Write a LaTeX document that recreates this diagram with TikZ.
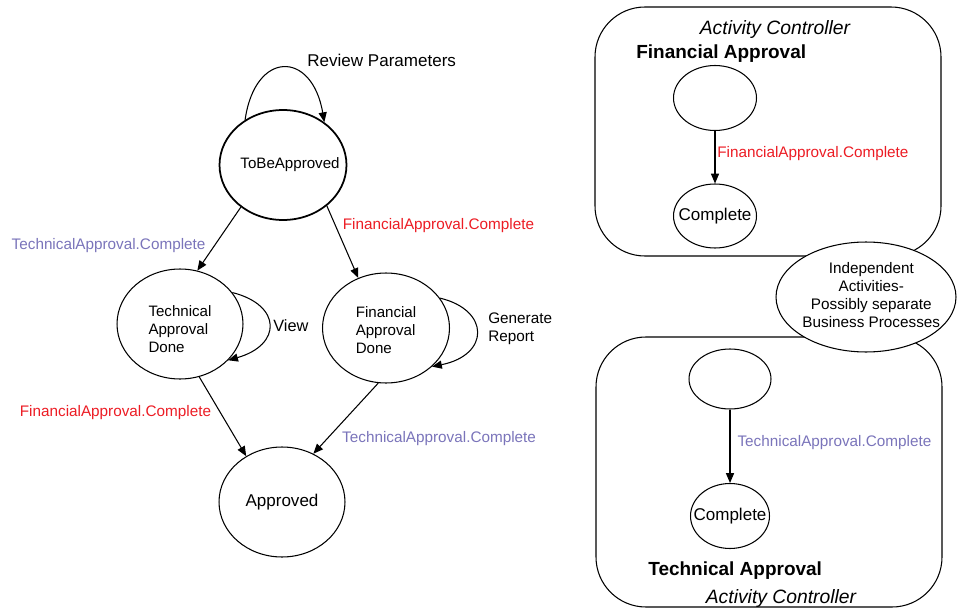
\documentclass[tikz,border=0pt]{standalone}
\usepackage{fontspec}
\setmainfont{Liberation Sans}
\usepackage{tikz}
\usetikzlibrary{
	arrows.meta,
	shapes.geometric,
	positioning
}
\definecolor{FinRed}{RGB}{236,28,36}
\definecolor{TechBlue}{RGB}{122,116,186}
\newcommand{\inside}[2][c]{\makebox[0pt]{\begin{tabular}{@{}#1@{}}#2\end{tabular}}}

\begin{document}
\begin{tikzpicture}[x=0.02cm, y=-0.02cm,
	>={Triangle[length=5.6pt,width=4.6pt]},
	state/.style={ellipse, draw, line width=0.6pt, inner sep=0pt, font=\fontsize{8.6}{10.3}\selectfont},
	bigtext/.style={font=\fontsize{9.7}{11.6}\selectfont},
	trans/.style={->, line width=0.6pt},
	lbl/.style={font=\fontsize{8.7}{10.4}\selectfont, inner sep=0pt},
	ctrlbox/.style={draw, line width=0.6pt, rounded corners=1cm},
	ctrlname/.style={font=\fontsize{10.8}{13}\selectfont\bfseries, inner sep=0pt},
	ctrlkind/.style={font=\fontsize{11}{13}\selectfont\itshape, inner sep=0pt}]
		\useasboundingbox (0,0) rectangle (957,608);
		\node[state, line width=1pt, minimum width=2.54cm, minimum height=2.2cm] (T) at (283,165) {\hspace{8pt}\inside{ToBeApproved}};
		\node[state, minimum width=2.52cm, minimum height=2.2cm] (TD) at (180,324) {\raisebox{-4pt}[\height][\depth]{\inside[l]{Technical\\Approval\\Done}}\hspace{10pt}};
		\node[state, minimum width=2.54cm, minimum height=2.2cm] (FD) at (386,328) {\raisebox{-2.3pt}[\height][\depth]{\inside[l]{Financial\\Approval\\Done}}\hspace{6pt}};
		\node[state, bigtext, minimum width=2.52cm, minimum height=2.2cm] (A) at (282,502) {\inside{Approved}};
		\draw[trans] (T.130) .. controls (255,50) and (312,50) .. (T.46);
		\node[bigtext, anchor=west, inner sep=0pt] (RP) at (307,60) {Review Parameters};
		\draw[trans] (TD.31) .. controls (282,305) and (282,345) .. (TD.-37);
		\node[lbl, font=\fontsize{9.3}{11}\selectfont, anchor=west] (V) at (273,326) {View};
		\draw[trans] (FD.29) .. controls (490,310) and (490,355) .. (FD.-40);
		\node[lbl, align=left, anchor=west] (GR) at (488,329) {Generate\\Report};
		\draw[trans] (T.-135) -- (TD.72) node[lbl, pos=.6, left=5pt, text=TechBlue] {TechnicalApproval.Complete};
		\draw[trans] (T.-43.5) -- (FD.119) node[lbl, pos=.27, right=4pt, text=FinRed] {FinancialApproval.Complete};
		\draw[trans] (TD.-70) -- (A.128) node[lbl, pos=.45, left=5pt, text=FinRed] {FinancialApproval.Complete};
		\draw[trans] (FD.-98) -- (A.57) node[lbl, pos=.78, right=8pt, text=TechBlue] {TechnicalApproval.Complete};
		\draw[ctrlbox] (595,7) rectangle (941,256);
		\node[ctrlkind, anchor=base] (FK) at (775,35) {Activity Controller};
		\node[ctrlname, anchor=base west] (FN) at (636,59) {Financial Approval};
		\node[state, minimum width=1.66cm, minimum height=1.3cm] (FS) at (715,98) {};
		\node[state, bigtext, minimum width=1.66cm, minimum height=1.28cm] (FC) at (715,216) {\inside{Complete}};
		\draw[trans] (FS) -- (FC) node[lbl, pos=.42, right=1pt, text=FinRed] {FinancialApproval.Complete};
		\draw[ctrlbox] (596,337) rectangle (942,607);
		\node[state, minimum width=1.64cm, minimum height=1.2cm] (TS) at (730,379) {};
		\node[state, bigtext, minimum width=1.58cm, minimum height=1.3cm] (TC) at (730,516) {\inside{Complete}};
		\draw[trans] (TS) -- (TC) node[lbl, pos=.45, right=4pt, text=TechBlue] {TechnicalApproval.Complete};
		\node[ctrlname, anchor=base west] (TN) at (648,575) {Technical Approval};
		\node[ctrlkind, anchor=base] (TK) at (781,603) {Activity Controller};
		\node[state, fill=white, font=\fontsize{8.7}{10.2}\selectfont, minimum width=3.6cm, minimum height=2.2cm] (IA) at (866,297) {\hspace{6pt}\inside{Independent\\Activities-\\Possibly separate\\Business Processes}\raisebox{10pt}{}};
	\end{tikzpicture}
\end{document}
